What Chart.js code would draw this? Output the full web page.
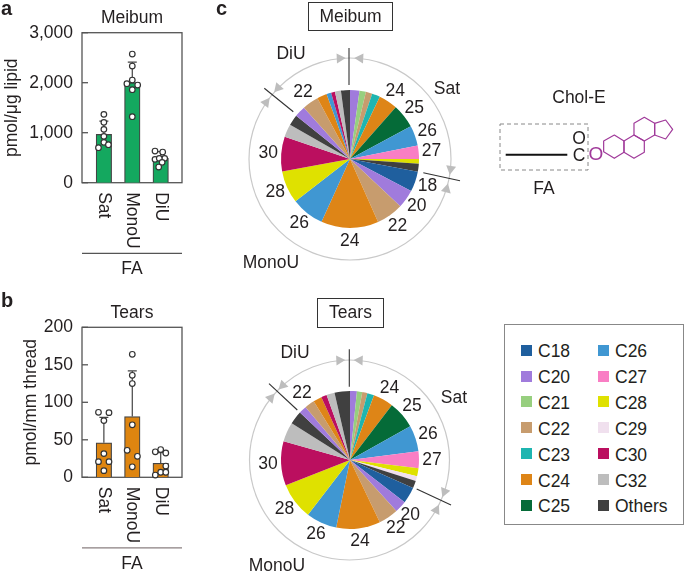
<!DOCTYPE html>
<html>
<head>
<meta charset="utf-8">
<script src="https://cdn.jsdelivr.net/npm/chart.js@4"></script>
<style>
  html, body { margin: 0; padding: 0; background: #fff; }
  #page { position: relative; width: 685px; height: 575px; overflow: hidden; font-family: "Liberation Sans", Arial, sans-serif; color: #231f20; font-size: 17.5px; }
  #page canvas { position: absolute; }
  #page svg { position: absolute; left: 0; top: 0; }
  .t { position: absolute; transform: translate(-50%, -50%); white-space: nowrap; }
  .panel { position: absolute; font-weight: bold; font-size: 20px; line-height: 20px; }
  .box { position: absolute; border: 1.3px solid #333; box-sizing: border-box; text-align: center; line-height: 27px; }
  #legend { position: absolute; left: 504px; top: 324px; width: 180px; height: 201px; border: 1.3px solid #888; box-sizing: border-box; }
  .sw { position: absolute; width: 11px; height: 11px; }
  .lg { position: absolute; line-height: 20px; white-space: nowrap; }
</style>
</head>
<body>
<div id="page">
  <svg id="deco" width="685" height="575"></svg>

  <canvas id="barMeibum" style="left:0;top:0;width:264px;height:285px"></canvas>
  <canvas id="barTears" style="left:0;top:285px;width:264px;height:290px"></canvas>
  <canvas id="pieMeibum" style="left:230px;top:39px;width:240px;height:240px"></canvas>
  <canvas id="pieTears" style="left:230px;top:340px;width:240px;height:240px"></canvas>

  <div class="panel" style="left:1px;top:-2px">a</div>
  <div class="panel" style="left:1px;top:290px">b</div>
  <div class="panel" style="left:216px;top:-2px">c</div>

  <div class="box" style="left:308px;top:2px;width:85px;height:29px">Meibum</div>
  <div class="box" style="left:317px;top:298px;width:67px;height:30px">Tears</div>

  <div class="t" style="left:291px;top:53px">DiU</div>
  <div class="t" style="left:447px;top:88px">Sat</div>
  <div class="t" style="left:271px;top:262px">MonoU</div>
  <div class="t" style="left:295px;top:352px">DiU</div>
  <div class="t" style="left:454px;top:397px">Sat</div>
  <div class="t" style="left:277px;top:565px">MonoU</div>

  <div class="t" style="left:579px;top:97px">Chol-E</div>
  <div class="t" style="left:579px;top:138px">O</div>
  <div class="t" style="left:579px;top:155px">C</div>
  <div class="t" style="left:596px;top:154px;color:#a03a9a;font-size:19px">O</div>
  <div class="t" style="left:544px;top:188px">FA</div>

  <div id="legend"></div>
</div>

<script>
// bar panels
const barNames = ['Sat', 'MonoU', 'DiU'];
const barPositions = [0, 1, 2];

const meibumMeans = [967, 2000, 487];
const meibumErrTop = [1233, 2413, 620];
const meibumPointX = [0, 0, 0, 0, -0.19, 0, 0.16, 1, 1, 1, 0.81, 1.19, 1, 1, 1.8, 2.07, 2.14, 1.8, 1.95, 2.05, 1.93];
const meibumPointY = [1367, 1207, 1067, 927, 700, 807, 760, 2573, 2333, 2053, 1980, 1953, 1860, 1320, 633, 613, 487, 467, 487, 407, 313];

const tearsMeans = [46, 81, 18.7];
const tearsErrTop = [80, 142, 33];
const tearsPointX = [-0.19, 0.18, 0, 0, -0.19, 0.18, 0, 1, 1, 1, 1, 0.82, 1.18, 1, 1.81, 2, 2.18, 2.18, 2, 2.18, 1.81];
const tearsPointY = [86.7, 86.2, 75.6, 31.6, 20.9, 20.9, 8.9, 164, 136, 125, 70, 36, 28, 14, 34, 37, 32.4, 15, 6.7, 6.7, 3];

// pie panels, clockwise from 12 o'clock
const legendNames = ['C18', 'C20', 'C21', 'C22', 'C23', 'C24', 'C25', 'C26', 'C27', 'C28', 'C29', 'C30', 'C32', 'Others'];
const legendColors = ['#1f5f9e', '#a07bdc', '#97cf7f', '#c79c6e', '#1eb5b0', '#de8517', '#056b38', '#4097d2', '#f97ec4', '#dfe100', '#f0e0ee', '#bb0f5f', '#bdbdbd', '#404040'];

const meibumSlices = ['C20', 'C21', 'C22', 'C23', 'C24', 'C25', 'C26', 'C27', 'C28', 'Others', 'C18', 'C20', 'C22', 'C24', 'C26', 'C28', 'C30', 'C32', 'Others', 'C20', 'C22', 'C24', 'C26', 'C30', 'C32', 'Others'];
const meibumShares = [2.2, 1.5, 1.5, 1.9, 4.4, 5.6, 4.7, 3.1, 1.1, 1.9, 4.7, 4.3, 6.3, 13.4, 7.7, 7.6, 8.1, 3.0, 2.5, 2.6, 3.8, 2.3, 1.1, 0.9, 1.4, 2.1];
const meibumSliceText = ['', '', '', '', '24', '25', '26', '27', '', '', '18', '20', '22', '24', '26', '28', '30', '', '', '', '22', '', '', '', '', ''];

const tearsSlices = ['C20', 'C21', 'C22', 'C23', 'C24', 'C25', 'C26', 'C27', 'C28', 'C29', 'Others', 'C18', 'C20', 'C22', 'C24', 'C26', 'C28', 'C30', 'C32', 'Others', 'C20', 'C22', 'C24', 'C30', 'C32', 'Others'];
const tearsShares = [1.6, 1.25, 1.2, 1.6, 4.7, 6.5, 6.1, 3.9, 1.9, 1.1, 1.75, 3.8, 2.8, 4.6, 10.3, 7.2, 8.6, 10.3, 4.6, 3.1, 1.8, 2.3, 2.0, 1.3, 1.9, 3.6];
const tearsSliceText = ['', '', '', '', '24', '25', '26', '27', '', '', '', '', '20', '22', '24', '26', '28', '30', '', '', '', '22', '', '', '', ''];

const fontFamily = '"Liberation Sans", Arial, sans-serif';
const inkColor = '#231f20';

Chart.defaults.font.family = fontFamily;
Chart.defaults.animation = false;

const barExtras = {
  id: 'barExtras',
  beforeDatasetsDraw(chart, args, opts) {
    const { ctx, chartArea: a, scales: { x, y } } = chart;
    ctx.save();
    // frame and inward ticks
    ctx.strokeStyle = '#555';
    ctx.lineWidth = 1.3;
    ctx.strokeRect(a.left, a.top, a.right - a.left, a.bottom - a.top);
    y.ticks.forEach(t => {
      const py = y.getPixelForValue(t.value);
      ctx.beginPath();
      ctx.moveTo(a.left, py);
      ctx.lineTo(a.left + 6, py);
      ctx.stroke();
    });
    // upper error bars only
    ctx.strokeStyle = '#444';
    ctx.lineWidth = 1.2;
    opts.errTop.forEach((top, i) => {
      const px = x.getPixelForValue(barPositions[i]);
      const pt = y.getPixelForValue(top);
      ctx.beginPath();
      ctx.moveTo(px, y.getPixelForValue(opts.means[i]));
      ctx.lineTo(px, pt);
      ctx.moveTo(px - 4.5, pt);
      ctx.lineTo(px + 4.5, pt);
      ctx.stroke();
    });
    ctx.restore();
  },
  afterDraw(chart, args, opts) {
    const { ctx, chartArea: a, scales: { x } } = chart;
    ctx.save();
    ctx.fillStyle = inkColor;
    ctx.font = '17.5px ' + fontFamily;
    barNames.forEach((name, i) => {
      ctx.save();
      ctx.translate(x.getPixelForValue(barPositions[i]), a.bottom + 9.5);
      ctx.rotate(Math.PI / 2);
      ctx.textAlign = 'left';
      ctx.textBaseline = 'middle';
      ctx.fillText(name, 0, 0);
      ctx.restore();
    });
    ctx.strokeStyle = opts.ruleColor;
    ctx.lineWidth = 1.2;
    ctx.beginPath();
    ctx.moveTo(a.left, a.bottom + 70.6);
    ctx.lineTo(a.right, a.bottom + 70.6);
    ctx.stroke();
    ctx.textAlign = 'center';
    ctx.textBaseline = 'middle';
    ctx.fillText('FA', (a.left + a.right) / 2, a.bottom + 86.5);
    ctx.restore();
  }
};

function makeBar(id, cfg) {
  return new Chart(document.getElementById(id), {
    type: 'bar',
    data: {
      datasets: [
        {
          type: 'scatter',
          data: cfg.pointX.map((x, i) => ({ x, y: cfg.pointY[i] })),
          backgroundColor: '#fff',
          borderColor: '#333',
          borderWidth: 1.2,
          pointRadius: 2.8,
          clip: false,
          order: 1,
        },
        {
          data: cfg.means.map((v, i) => ({ x: barPositions[i], y: v })),
          backgroundColor: cfg.color,
          borderColor: '#444',
          borderWidth: 1.2,
          barThickness: 15.5,
          order: 2,
        },
      ],
    },
    options: {
      responsive: false,
      layout: { padding: { top: cfg.top, left: 0, right: 82, bottom: cfg.bottom } },
      plugins: {
        legend: { display: false },
        tooltip: { enabled: false },
        title: {
          display: true,
          text: cfg.title,
          fullSize: false,
          color: inkColor,
          font: { size: 17.5, weight: 'normal' },
          padding: { top: 0, bottom: cfg.titleGap },
        },
        barExtras: { errTop: cfg.errTop, means: cfg.means, ruleColor: cfg.ruleColor },
      },
      scales: {
        x: { type: 'linear', display: false, min: -0.77, max: 2.75, offset: false },
        y: {
          min: 0,
          max: cfg.max,
          afterFit(scale) { scale.width = 82; },
          grid: { display: false, drawTicks: false },
          border: { display: false },
          ticks: { stepSize: cfg.step, color: inkColor, padding: 9, font: { size: 17.5 } },
          title: {
            display: true,
            text: cfg.yTitle,
            color: inkColor,
            font: { size: 17.5 },
            padding: { top: cfg.yTitleInset, bottom: 0 },
          },
        },
      },
    },
    plugins: [barExtras],
  });
}

makeBar('barMeibum', {
  title: 'Meibum', yTitle: 'pmol/μg lipid', yTitleInset: 2,
  top: 8, titleGap: 3.7, bottom: 102.3, max: 3000, step: 1000,
  means: meibumMeans, errTop: meibumErrTop, pointX: meibumPointX, pointY: meibumPointY,
  color: '#14a85f', ruleColor: '#555',
});
makeBar('barTears', {
  title: 'Tears', yTitle: 'pmol/mm thread', yTitleInset: 21,
  top: 18, titleGap: 3.3, bottom: 97.7, max: 200, step: 50,
  means: tearsMeans, errTop: tearsErrTop, pointX: tearsPointX, pointY: tearsPointY,
  color: '#de8510', ruleColor: '#8a7f80',
});

const sliceLabels = {
  id: 'sliceLabels',
  afterDraw(chart, args, opts) {
    const { ctx } = chart;
    ctx.save();
    ctx.fillStyle = inkColor;
    ctx.font = '17.5px ' + fontFamily;
    ctx.textAlign = 'center';
    ctx.textBaseline = 'middle';
    chart.getDatasetMeta(0).data.forEach((arc, i) => {
      if (!opts.text[i]) return;
      const mid = (arc.startAngle + arc.endAngle) / 2;
      ctx.fillText(opts.text[i], arc.x + Math.cos(mid) * opts.dist, arc.y + Math.sin(mid) * opts.dist);
    });
    ctx.restore();
  }
};

function makePie(id, slices, shares, text) {
  return new Chart(document.getElementById(id), {
    type: 'pie',
    data: {
      labels: slices,
      datasets: [{
        data: shares,
        backgroundColor: slices.map(s => legendColors[legendNames.indexOf(s)]),
        borderWidth: 0,
        radius: 69,
      }],
    },
    options: {
      responsive: false,
      plugins: {
        legend: { display: false },
        tooltip: { enabled: false },
        sliceLabels: { text, dist: 82 },
      },
    },
    plugins: [sliceLabels],
  });
}

makePie('pieMeibum', meibumSlices, meibumShares, meibumSliceText);
makePie('pieTears', tearsSlices, tearsShares, tearsSliceText);

// legend box, two columns of seven
const legendBox = document.getElementById('legend');
const legendRows = [25, 51, 76.7, 102.7, 128.7, 154.7, 180.3];
legendNames.forEach((name, i) => {
  const col = i < 7 ? 0 : 1;
  const rowY = legendRows[i % 7];
  const sw = document.createElement('div');
  sw.className = 'sw';
  sw.style.cssText = `left:${col ? 93 : 16}px;top:${rowY - 5.5}px;background:${legendColors[i]}`;
  legendBox.appendChild(sw);
  const tx = document.createElement('div');
  tx.className = 'lg';
  tx.style.cssText = `left:${col ? 110 : 33}px;top:${rowY - 9}px`;
  tx.textContent = name;
  legendBox.appendChild(tx);
});

// rings, dividers, arrowheads and the Chol-E sketch
const deco = document.getElementById('deco');
let svg = '';
function ring(cx, cy, r, dividers) {
  svg += `<circle cx="${cx}" cy="${cy}" r="${r}" fill="none" stroke="#c9c9c9" stroke-width="1.2"/>`;
  dividers.forEach(d => {
    svg += `<line x1="${d.line[0]}" y1="${d.line[1]}" x2="${d.line[2]}" y2="${d.line[3]}" stroke="#333" stroke-width="1.1"/>`;
    arrow(cx, cy, r, d.deg - d.gap, -1);
    arrow(cx, cy, r, d.deg + d.gap, 1);
  });
}
function arrow(cx, cy, r, deg, dir) {
  // tip sits on the ring, the body trails back along it
  const a = (deg - 90) * Math.PI / 180;
  const tx = cx + r * Math.cos(a), ty = cy + r * Math.sin(a);
  const ux = -Math.sin(a) * dir, uy = Math.cos(a) * dir;
  const nx = Math.cos(a), ny = Math.sin(a);
  const bx = tx + ux * 9, by = ty + uy * 9;
  svg += `<polygon points="${tx},${ty} ${bx + nx * 5},${by + ny * 5} ${bx - nx * 5},${by - ny * 5}" fill="#bdbdbd"/>`;
}
ring(350, 159, 101, [
  { deg: 0, gap: 2.4, line: [349, 48, 349, 85] },
  { deg: 309.3, gap: 2, line: [264.3, 88.3, 293.3, 111.7] },
  { deg: 101.5, gap: 2.5, line: [423.3, 172.7, 460, 180.7] },
]);
ring(349.5, 460, 100, [
  { deg: 0, gap: 2.4, line: [349.3, 349.3, 349.3, 386.7] },
  { deg: 313.2, gap: 1.6, line: [269, 383.7, 297.3, 410] },
  { deg: 114.2, gap: 2.4, line: [416.7, 489, 451, 505] },
]);
svg += `<rect x="500" y="124" width="88" height="46" fill="none" stroke="#888" stroke-width="1" stroke-dasharray="4 3"/>`;
svg += `<line x1="505.7" y1="154.7" x2="567.3" y2="154.7" stroke="#111" stroke-width="2"/>`;
svg += `<g transform="translate(490 80) scale(0.3333)" fill="none" stroke="#a03a9a" stroke-width="3.6" stroke-linejoin="round">
  <polygon points="341,183 373,165 402,183 402,217 373,235 341,215"/>
  <polygon points="402,183 432,165 463,183 463,217 432,235 402,217"/>
  <polygon points="432,165 432,130 463,112 494,130 494,165 463,183"/>
  <polygon points="494,130 527,120 548,148 527,177 494,165"/>
</g>`;
deco.innerHTML = svg;
</script>
</body>
</html>
